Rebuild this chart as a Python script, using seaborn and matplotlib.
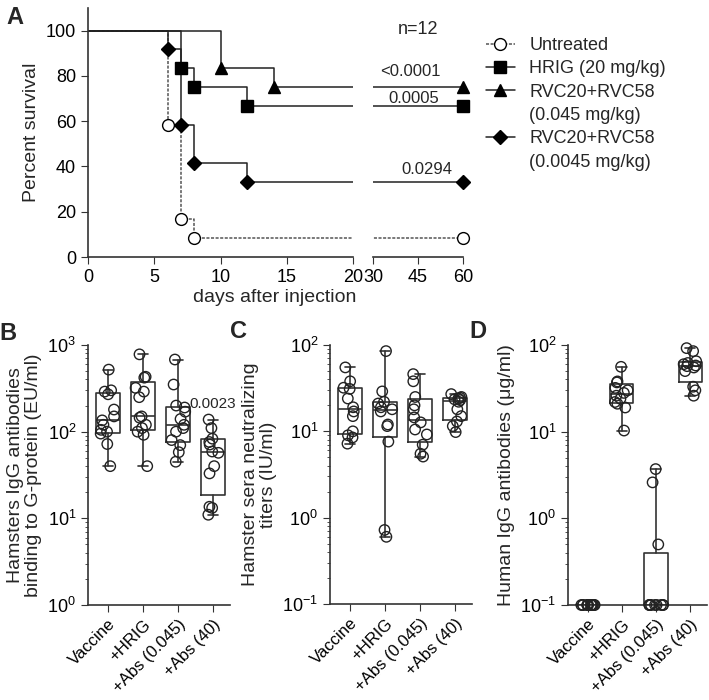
import numpy as np
import pandas as pd
import matplotlib
matplotlib.use('Agg')
import matplotlib.pyplot as plt
import seaborn as sns
from matplotlib.lines import Line2D

# ---- panel A: Kaplan-Meier survival (days, percent) ----
days_untreated = [0, 6, 7, 8, 60]
surv_untreated = [100, 58.3, 16.7, 8.3, 8.3]
days_hrig = [0, 7, 8, 12, 60]
surv_hrig = [100, 83.3, 75, 66.7, 66.7]
days_rvc_hi = [0, 10, 14, 60]
surv_rvc_hi = [100, 83.3, 75, 75]
days_rvc_lo = [0, 6, 7, 8, 12, 60]
surv_rvc_lo = [100, 91.7, 58.3, 41.7, 33.3, 33.3]
legend_labels = ['Untreated', 'HRIG (20 mg/kg)', 'RVC20+RVC58', '(0.045 mg/kg)',
                 'RVC20+RVC58', '(0.0045 mg/kg)']
pval_text = ['<0.0001', '0.0005', '0.0294']
pval_day = [42.3, 43.7, 48]
pval_pos = [81.9, 69.9, 38.5]

# ---- panels B-D ----
groups = ['Vaccine', '+HRIG', '+Abs (0.045)', '+Abs (40)']

elisa_vaccine = [520, 300, 290, 270, 180, 150, 135, 120, 105, 100, 95, 72, 40]
elisa_hrig = [780, 430, 420, 320, 290, 250, 150, 145, 120, 110, 100, 92, 40]
elisa_abs_lo = [680, 350, 200, 190, 170, 140, 120, 110, 100, 80, 70, 58, 45]
elisa_abs_hi = [138, 110, 83, 76, 71, 59, 57, 40, 33, 13.6, 13.2, 11]

rffit_vaccine = [55, 38, 32, 31, 24, 19, 17, 15, 10, 9, 8.5, 7.2]
rffit_hrig = [85, 29, 22, 21, 19, 18, 17, 12, 11.5, 7.6, 0.72, 0.6]
rffit_abs_lo = [46, 38, 25, 20, 18, 14.5, 12.7, 10.5, 9.2, 7, 5.5, 5.1]
rffit_abs_hi = [27, 25, 24.5, 24, 23.5, 23, 22, 18, 15, 13, 11.5, 9.8]

human_vaccine = [0.1] * 12
human_hrig = [56, 38, 37, 32, 30, 28, 26, 24, 22, 21, 19, 10.3]
human_abs_lo = [3.7, 2.6, 0.5] + [0.1] * 9
human_abs_hi = [92, 85, 65, 62, 60, 58, 57, 55, 50, 33, 30, 26]

sns.set_style('ticks')
plt.rcParams['font.family'] = ['Liberation Sans', 'DejaVu Sans']
plt.rcParams['axes.edgecolor'] = '#333333'
plt.rcParams['axes.linewidth'] = 1.2
plt.rcParams['xtick.color'] = '#333333'
plt.rcParams['ytick.color'] = '#333333'
plt.rcParams['xtick.labelcolor'] = 'black'
plt.rcParams['ytick.labelcolor'] = 'black'
plt.rcParams['xtick.labelsize'] = 13
plt.rcParams['ytick.labelsize'] = 13
plt.rcParams['axes.labelsize'] = 14
plt.rcParams['xtick.major.size'] = 5
plt.rcParams['ytick.major.size'] = 5
np.random.seed(3)

W, H = 709, 700
fig = plt.figure(figsize=(W / 100, H / 100), dpi=100)


def box(l, t, r, b):
    return [l / W, 1 - b / H, (r - l) / W, (b - t) / H]


# ------------------ panel A ------------------
axA = fig.add_axes(box(88, 8, 353, 257))
axA2 = fig.add_axes(box(373, 8, 463, 257))

series = [
    (days_untreated, surv_untreated, 'o', 'white', (0, (2, 1)), '#555555', 8.5),
    (days_hrig, surv_hrig, 's', 'black', '-', '#222222', 9),
    (days_rvc_hi, surv_rvc_hi, '^', 'black', '-', '#222222', 9),
    (days_rvc_lo, surv_rvc_lo, 'D', 'black', '-', '#222222', 7),
]
for d, s, m, fc, ls, lc, ms in series:
    axA.plot(d, s, drawstyle='steps-post', color=lc, ls=ls, lw=1.1, zorder=2)
    axA.plot(d[1:], s[1:], ls='none', marker=m, mfc=fc, mec='black', mew=1,
             ms=ms, zorder=3)
    axA2.plot(d, s, drawstyle='steps-post', color=lc, ls=ls, lw=1.1, zorder=2)
    axA2.plot(d[-1:], s[-1:], ls='none', marker=m, mfc=fc, mec='black', mew=1,
              ms=ms, zorder=3, clip_on=False)

for a in (axA, axA2):
    a.set_ylim(0, 110)
    sns.despine(ax=a)
axA.set_xlim(0, 20)
axA.set_xticks([0, 5, 10, 15, 20])
axA.set_yticks([0, 20, 40, 60, 80, 100])
axA.set_ylabel('Percent survival')
axA2.set_xlim(30, 60)
axA2.set_xticks([30, 45, 60])
axA2.spines['left'].set_visible(False)
axA2.set_yticks([])
axA2.text(45, 100.5, 'n=12', ha='center', va='center', fontsize=13)
for t, x, y in zip(pval_text, pval_day, pval_pos):
    axA2.text(x, y, t, ha='center', va='center', fontsize=12)
fig.text(275 / W, 1 - 297 / H, 'days after injection', ha='center', va='center',
         fontsize=14)

handles = []
for d, s, m, fc, ls, lc, ms in series:
    handles.append(Line2D([], [], color=lc, ls=ls, lw=1.1, marker=m, mfc=fc,
                          mec='black', ms=ms))
blank = Line2D([], [], ls='none')
handles = [handles[0], handles[1], handles[2], blank, handles[3], blank]
fig.legend(handles, legend_labels, loc='upper left',
           bbox_to_anchor=(486 / W, 1 - 37 / H), frameon=False, borderpad=0,
           borderaxespad=0, handlelength=1.6, handletextpad=0.8,
           labelspacing=0.35, fontsize=13)


# ------------------ panels B-D ------------------
def prism_stats(vals):
    q1, med, q3 = np.percentile(vals, [25, 50, 75], method='weibull')
    return dict(med=med, q1=q1, q3=q3, whislo=min(vals), whishi=max(vals),
                fliers=[])


def dot_box(ax, data, ylim, ylabel):
    df = pd.DataFrame({'group': np.repeat(groups, [len(v) for v in data]),
                       'value': np.concatenate(data)})
    sns.stripplot(data=df, x='group', y='value', order=groups, ax=ax,
                  jitter=0.22, size=7.5, facecolor='none', edgecolor='#222222',
                  linewidth=1, log_scale=True, zorder=3)
    for c in ax.collections:
        c.set_clip_on(False)
    lp = dict(color='#333333', lw=1.2)
    ax.bxp([prism_stats(v) for v in data], positions=range(4), widths=0.68,
           capwidths=0.3, showfliers=False, boxprops=lp, whiskerprops=lp,
           capprops=lp, medianprops=lp, manage_ticks=False)
    ax.set_yscale('log')
    ax.set_ylim(*ylim)
    ax.set_xlim(-0.57, 3.49)
    ax.set_xticks(range(4))
    ax.set_xticklabels(groups, rotation=45, ha='right', rotation_mode='anchor',
                       fontsize=12)
    ax.set_xlabel('')
    ax.set_ylabel(ylabel, linespacing=1.05)
    sns.despine(ax=ax)


axB = fig.add_axes(box(88, 345, 230, 605))
dot_box(axB, [elisa_vaccine, elisa_hrig, elisa_abs_lo, elisa_abs_hi], (1, 1000),
        'Hamsters IgG antibodies\nbinding to G-protein (EU/ml)')
axB.text(3, 210, '0.0023', ha='center', va='center', fontsize=11)

axC = fig.add_axes(box(330, 345, 472, 604))
dot_box(axC, [rffit_vaccine, rffit_hrig, rffit_abs_lo, rffit_abs_hi], (0.1, 100),
        'Hamster sera neutralizing\ntiters (IU/ml)')

axD = fig.add_axes(box(568, 345, 707, 605))
dot_box(axD, [human_vaccine, human_hrig, human_abs_lo, human_abs_hi], (0.1, 100),
        'Human IgG antibodies (\u03bcg/ml)')

for lab, x, y in [('A', 15, 17), ('B', 8, 333), ('C', 239, 331), ('D', 478, 331)]:
    fig.text(x / W, 1 - y / H, lab, ha='center', va='center', fontsize=17,
             fontweight='bold')

fig.savefig('out.png', dpi=100)
